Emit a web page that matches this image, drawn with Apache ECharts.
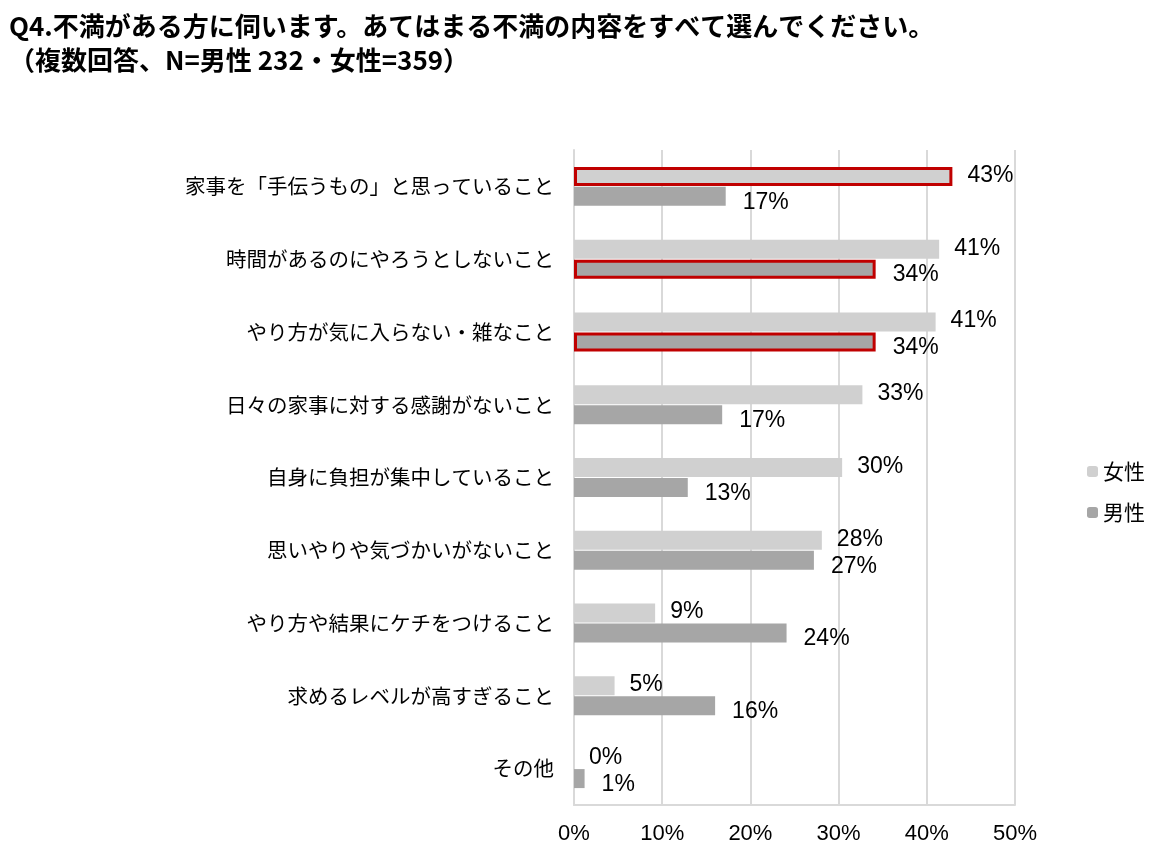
<!DOCTYPE html>
<html><head><meta charset="utf-8">
<script src="https://cdn.jsdelivr.net/npm/echarts@6/dist/echarts.min.js"></script>
<style>html,body{margin:0;padding:0;background:#fff}#c{width:1171px;height:865px}</style>
</head><body><div id="c"></div>
<script>
const titleLines = ["Q4.不満がある方に伺います。あてはまる不満の内容をすべて選んでください。", "（複数回答、N=男性 232・女性=359）"];
const categories = ["家事を「手伝うもの」と思っていること","時間があるのにやろうとしないこと","やり方が気に入らない・雑なこと","日々の家事に対する感謝がないこと","自身に負担が集中していること","思いやりや気づかいがないこと","やり方や結果にケチをつけること","求めるレベルが高すぎること","その他"];
const female = [42.9, 41.4, 41.0, 32.7, 30.4, 28.1, 9.2, 4.6, 0];
const male = [17.2, 34.2, 34.2, 16.8, 12.9, 27.2, 24.1, 16.0, 1.2];
const femaleHighlight = [0];
const maleHighlight = [1, 2];
const xTicks = [0, 10, 20, 30, 40, 50];

const font = '"Liberation Sans", Arial, "Noto Sans CJK JP", sans-serif';
const jfont = '"Noto Sans CJK JP", sans-serif';
const red = '#c00000';
function mk(vals, hl) {
  return vals.map((v, i) => hl.includes(i) ? {value: v, itemStyle: {borderColor: red, borderWidth: 3}} : v);
}
const chart = echarts.init(document.getElementById('c'));
chart.setOption({
  animation: false,
  title: {
    text: titleLines.join('\n'), left: 4, top: 4,
    textStyle: {fontFamily: jfont, fontWeight: 'bold', fontSize: 26, color: '#000', lineHeight: 34}
  },
  legend: {
    orient: 'vertical', left: 1082, top: 456, itemWidth: 11, itemHeight: 11, itemGap: 20,
    textStyle: {fontFamily: jfont, fontSize: 21, color: '#000'},
    data: ['女性', '男性']
  },
  grid: {left: 574, right: 156, top: 150, bottom: 60, containLabel: false},
  xAxis: {
    type: 'value', min: xTicks[0], max: xTicks[xTicks.length - 1], interval: 10,
    axisLabel: {formatter: v => v + '%', fontFamily: font, fontSize: 22, color: '#000', margin: 18},
    axisLine: {show: true, lineStyle: {color: '#d9d9d9', width: 2}},
    axisTick: {show: false},
    splitLine: {show: true, lineStyle: {color: '#d9d9d9', width: 2}}
  },
  yAxis: {
    type: 'category', data: categories, inverse: true,
    axisLabel: {fontFamily: jfont, fontSize: 20.5, color: '#000', margin: 20},
    axisLine: {show: true, lineStyle: {color: '#d9d9d9', width: 2}},
    axisTick: {show: false}
  },
  series: [
    {name: '女性', type: 'bar', data: mk(female, femaleHighlight), barWidth: 19, barGap: '5%',
     itemStyle: {color: '#d0d0d0'},
     label: {show: true, position: 'right', distance: 15, offset: [0, -1], formatter: p => Math.round(p.value) + '%',
             fontFamily: font, fontSize: 23, color: '#000'}},
    {name: '男性', type: 'bar', data: mk(male, maleHighlight), barWidth: 19,
     itemStyle: {color: '#a6a6a6'},
     label: {show: true, position: 'right', distance: 17, offset: [0, 6], formatter: p => Math.round(p.value) + '%',
             fontFamily: font, fontSize: 23, color: '#000'}}
  ]
});
</script></body></html>
